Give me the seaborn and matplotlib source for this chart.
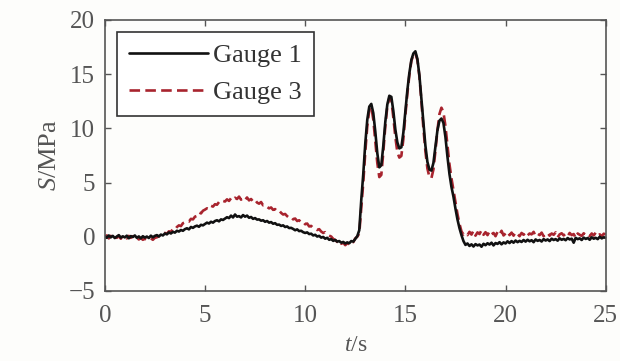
import numpy as np
import pandas as pd
import matplotlib
matplotlib.use("Agg")
import matplotlib.pyplot as plt
import seaborn as sns

# time axis: 0 .. 25 s, one sample every 0.1 s
t = np.round(np.arange(0, 251) * 0.1, 1)

# Gauge 1 (black, solid)
gauge1 = [
    0.05, -0.10, 0.12, -0.05, 0.08, -0.12, 0.02, 0.15, -0.08, 0.04,
    -0.06, 0.10, -0.14, 0.06, -0.02, 0.12, -0.10, 0.03, -0.15, 0.05,
    -0.08, 0.02, -0.12, 0.10, -0.05, 0.08, 0.15, 0.02, 0.20, 0.12,
    0.30, 0.22, 0.40, 0.30, 0.45, 0.38, 0.55, 0.48, 0.62, 0.55,
    0.70, 0.78, 0.68, 0.90, 0.82, 0.95, 1.02, 0.92, 1.10, 1.05,
    1.18, 1.30, 1.22, 1.38, 1.30, 1.45, 1.52, 1.42, 1.60, 1.55,
    1.68, 1.80, 1.72, 1.95, 1.78, 2.05, 1.85, 1.90, 1.78, 2.00,
    1.85, 1.95, 1.75, 1.82, 1.65, 1.72, 1.58, 1.60, 1.48, 1.52,
    1.38, 1.45, 1.30, 1.35, 1.20, 1.25, 1.10, 1.12, 1.00, 1.05,
    0.90, 0.95, 0.80, 0.82, 0.72, 0.60, 0.68, 0.52, 0.55, 0.42,
    0.35, 0.40, 0.25, 0.28, 0.12, 0.18, 0.02, 0.08, -0.08, -0.02,
    -0.18, -0.10, -0.28, -0.22, -0.38, -0.30, -0.45, -0.40, -0.55, -0.48,
    -0.62, -0.52, -0.60, -0.40, -0.45, -0.20, 0.05, 0.60, 3.40, 5.80,
    8.60, 10.80, 12.00, 12.25, 11.40, 9.70, 7.70, 6.40, 6.60, 8.40,
    10.60, 12.20, 13.00, 12.90, 11.60, 9.90, 8.70, 8.15, 8.25, 9.60,
    11.60, 13.50, 15.10, 16.30, 16.90, 17.10, 16.40, 14.90, 12.70, 10.40,
    8.40, 6.90, 6.20, 6.10, 6.80, 8.30, 9.80, 10.70, 10.90, 10.50,
    9.20, 7.40, 5.80, 4.60, 3.70, 2.60, 1.60, 0.80, 0.15, -0.40,
    -0.75, -0.62, -0.85, -0.70, -0.90, -0.68, -0.80, -0.72, -0.92, -0.65,
    -0.78, -0.60, -0.72, -0.55, -0.80, -0.58, -0.66, -0.50, -0.70, -0.52,
    -0.62, -0.42, -0.58, -0.40, -0.55, -0.35, -0.50, -0.38, -0.48, -0.30,
    -0.45, -0.28, -0.42, -0.32, -0.50, -0.25, -0.38, -0.30, -0.44, -0.22,
    -0.35, -0.25, -0.40, -0.18, -0.30, -0.22, -0.36, -0.15, -0.28, -0.20,
    -0.32, -0.12, -0.25, -0.18, -0.55, -0.10, -0.22, -0.15, -0.30, -0.08,
    -0.20, -0.12, -0.28, -0.05, -0.18, -0.10, -0.22, 0.00, -0.15, -0.05,
    -0.10,
]

# Gauge 3 (dark red, dashed)
gauge3 = [
    -0.05, 0.12, -0.15, 0.08, -0.02, 0.15, -0.10, 0.05, -0.18, 0.10,
    -0.02, -0.15, 0.08, -0.10, 0.05, -0.20, -0.08, -0.25, -0.12, -0.28,
    -0.18, -0.30, -0.22, -0.15, -0.28, -0.10, -0.05, 0.05, 0.15, 0.25,
    0.35, 0.28, 0.50, 0.45, 0.72, 0.65, 0.90, 1.05, 0.98, 1.25,
    1.32, 1.45, 1.40, 1.65, 1.60, 1.85, 1.92, 2.25, 2.15, 2.40,
    2.50, 2.62, 2.55, 2.85, 2.78, 3.00, 2.95, 3.20, 3.12, 3.30,
    3.25, 3.45, 3.30, 3.55, 3.40, 3.60, 3.48, 3.70, 3.42, 3.58,
    3.40, 3.62, 3.35, 3.48, 3.25, 3.40, 3.15, 3.05, 3.20, 2.90,
    2.95, 2.75, 2.62, 2.70, 2.48, 2.55, 2.35, 2.42, 2.20, 2.05,
    2.10, 1.90, 1.75, 1.82, 1.60, 1.68, 1.45, 1.52, 1.32, 1.38,
    1.15, 1.22, 0.95, 1.00, 0.80, 0.72, 0.62, 0.70, 0.48, 0.35,
    0.42, 0.20, 0.10, 0.02, -0.20, -0.30, -0.48, -0.40, -0.65, -0.55,
    -0.78, -0.60, -0.70, -0.45, -0.50, -0.15, 0.00, 0.30, 2.60, 5.00,
    7.80, 10.20, 11.70, 12.00, 10.80, 8.80, 6.80, 5.50, 5.70, 7.80,
    10.20, 12.00, 12.80, 12.60, 11.00, 9.20, 7.80, 7.30, 7.45, 9.00,
    11.20, 13.20, 14.90, 16.20, 16.80, 16.90, 16.30, 14.80, 12.50, 10.00,
    7.90, 6.30, 5.50, 5.40, 6.20, 7.90, 9.80, 11.30, 11.90, 11.50,
    10.20, 8.40, 6.70, 5.40, 4.30, 3.20, 2.10, 1.20, 0.50, 0.20,
    0.35, 0.15, 0.45, 0.20, 0.55, 0.10, 0.40, 0.25, 0.60, 0.18,
    0.42, 0.15, 0.50, 0.22, 0.35, 0.05, 0.45, 0.20, 0.55, 0.12,
    0.30, 0.48, 0.15, 0.38, 0.10, 0.42, 0.25, 0.05, 0.35, 0.18,
    0.40, 0.12, 0.30, 0.22, 0.45, 0.08, 0.28, 0.15, 0.38, 0.05,
    0.25, 0.35, 0.10, 0.30, 0.18, 0.40, -0.05, 0.22, 0.32, 0.12,
    0.28, 0.05, 0.35, 0.15, 0.25, -0.10, 0.30, 0.18, 0.08, 0.32,
    0.15, 0.25, 0.05, 0.30, 0.12, 0.38, 0.10, 0.22, 0.05, 0.28,
    0.20,
]

x_ticks = [0, 5, 10, 15, 20, 25]
y_ticks = [-5, 0, 5, 10, 15, 20]

sns.set_style("ticks")
plt.rcParams["font.family"] = ["Liberation Serif", "DejaVu Serif"]
plt.rcParams["mathtext.fontset"] = "custom"
plt.rcParams["mathtext.rm"] = "Liberation Serif"
plt.rcParams["mathtext.it"] = "Liberation Serif:italic"

df = pd.DataFrame({"t": t, "Gauge 1": gauge1, "Gauge 3": gauge3})

fig = plt.figure(figsize=(6.2, 3.61), dpi=100, facecolor="#fdfdfb")
ax = fig.add_axes([0.169, 0.194, 0.808, 0.751])
ax.set_facecolor("#fdfdfb")

# red first so the black trace sits on top
sns.lineplot(data=df, x="t", y="Gauge 3", ax=ax, color="#a8242e",
             linewidth=1.9, linestyle=(0, (4, 2)), label="Gauge 3")
sns.lineplot(data=df, x="t", y="Gauge 1", ax=ax, color="#111111",
             linewidth=1.9, label="Gauge 1")

ax.set_xlim(0, 25)
ax.set_ylim(-5, 20)
ax.set_xticks(x_ticks)
ax.set_yticks(y_ticks)
ax.set_yticklabels(["\u22125" if v < 0 else str(v) for v in y_ticks])
ax.tick_params(axis="both", direction="in", length=4, width=1, top=True,
               right=True, labelsize=18, colors="#555555",
               labelcolor="#555555")
ax.tick_params(axis="x", pad=10)
ax.tick_params(axis="y", pad=7)
for s in ax.spines.values():
    s.set_color("#555555")
    s.set_linewidth(1.2)

ax.set_xlabel("$t$/s", fontsize=17, color="#555555", labelpad=6)
ax.set_ylabel("$S$/MPa", fontsize=19, color="#555555", labelpad=5)

handles, labels = ax.get_legend_handles_labels()
order = [labels.index("Gauge 1"), labels.index("Gauge 3")]
leg = ax.legend([handles[i] for i in order], [labels[i] for i in order],
                loc="upper left", bbox_to_anchor=(0.024, 0.956),
                borderaxespad=0, fontsize=19, fancybox=False,
                edgecolor="#333333", handlelength=3.0, handletextpad=0.2,
                borderpad=0.45, labelspacing=0.5, labelcolor="#333333")
leg.get_frame().set_linewidth(1.2)
leg.get_frame().set_facecolor("white")
leg.get_frame().set_alpha(1)

fig.savefig("out.png", dpi=100, facecolor=fig.get_facecolor())
